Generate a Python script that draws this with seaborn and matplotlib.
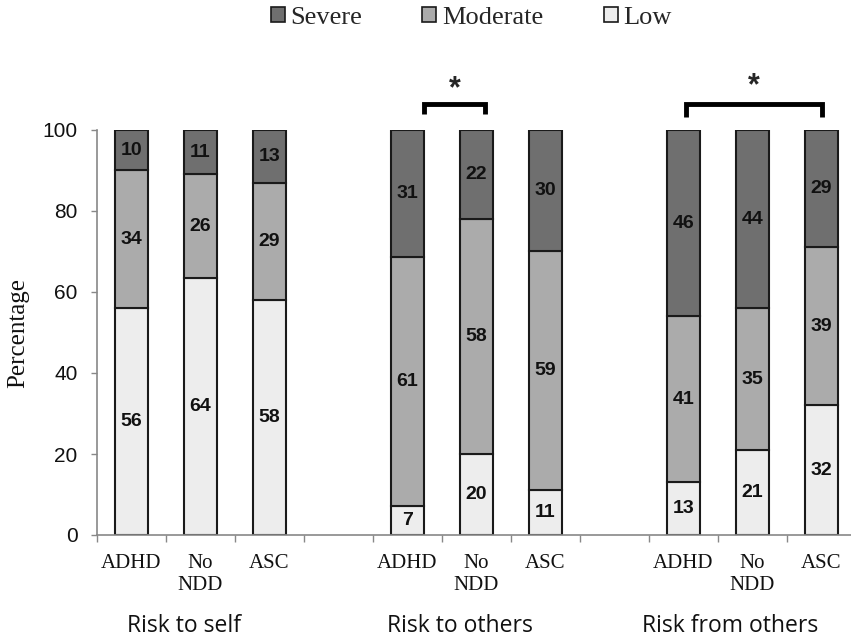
import matplotlib
matplotlib.use("Agg")
import matplotlib.pyplot as plt
import seaborn as sns
import pandas as pd
import numpy as np
from matplotlib.patches import Patch

# ---- data ----
groups = ["Risk to self", "Risk to others", "Risk from others"]
subgroups = ["ADHD", "No NDD", "ASC"]
tick_text = ["ADHD", "No\nNDD", "ASC"]
levels = ["Low", "Moderate", "Severe"]
low = [56, 64, 58, 7, 20, 11, 13, 21, 32]
moderate = [34, 26, 29, 61, 58, 59, 41, 35, 39]
severe = [10, 11, 13, 31, 22, 30, 46, 44, 29]

colors = {"Severe": "#6f6f6f", "Moderate": "#ababab", "Low": "#ededed"}

# slots: 3 groups of 3 bars with a blank slot between groups
slots = []
ticklabels = []
for gi, g in enumerate(groups):
    for si, s in enumerate(subgroups):
        slots.append(f"{g}|{s}")
        ticklabels.append(tick_text[si])
    if gi < len(groups) - 1:
        slots.append(f"gap{gi}")
        ticklabels.append("")

rows = []
k = 0
for g in groups:
    for s in subgroups:
        tot = low[k] + moderate[k] + severe[k]
        rows.append({"slot": f"{g}|{s}", "Low": low[k], "Moderate": moderate[k],
                     "Severe": severe[k],
                     "Low_h": low[k] * 100 / tot, "Moderate_h": moderate[k] * 100 / tot,
                     "Severe_h": severe[k] * 100 / tot})
        k += 1
df = pd.DataFrame(rows)
df["Low_b"] = 0.0
df["Moderate_b"] = df["Low_h"]
df["Severe_b"] = df["Low_h"] + df["Moderate_h"]

sns.set_theme(style="white")
plt.rcParams["font.family"] = ["Liberation Sans", "DejaVu Sans"]

fig = plt.figure(figsize=(8.51, 6.38), dpi=100)
W, H = 851, 638
ax_left, ax_right = 97, 856
ax_top, ax_bot = 130, 535
ax = fig.add_axes([ax_left / W, 1 - ax_bot / H, (ax_right - ax_left) / W, (ax_bot - ax_top) / H])

for lv in levels:
    sns.barplot(data=df, x="slot", y=f"{lv}_h", order=slots, ax=ax,
                bottom=df[f"{lv}_b"].values, color=colors[lv],
                edgecolor="#1a1a1a", linewidth=1.5, width=0.49,
                saturation=1, errorbar=None)

# value labels
pos = {s: i for i, s in enumerate(slots)}
for _, r in df.iterrows():
    x = pos[r["slot"]]
    for lv in levels:
        yc = r[f"{lv}_b"] + r[f"{lv}_h"] / 2
        ax.text(x, yc, f"{int(r[lv])}", ha="center", va="center",
                fontsize=14, fontweight="bold", color="#111111")

ax.set_xlim(-0.5, 10.5)
ax.set_ylim(0, 100)
ax.set_yticks([0, 20, 40, 60, 80, 100])
ax.tick_params(axis="y", labelsize=15, length=4, width=1, color="#888888",
               direction="out", left=True, pad=10, labelcolor="#111111")
ax.set_xticks(range(len(slots)))
ax.set_xticklabels(ticklabels, fontsize=15, family=["Liberation Serif"], color="#111111",
                   linespacing=1.15)
ax.tick_params(axis="x", which="major", length=0, pad=14)
ax.set_xticks(np.arange(-0.5, 10.6, 1.0), minor=True)
ax.tick_params(axis="x", which="minor", length=5, width=1, color="#888888",
               direction="out", bottom=True)
ax.set_xlabel("")
ax.set_ylabel("")
fig.text(18 / W, 1 - 333 / H, "Percentage", rotation=90, ha="center", va="center",
         fontsize=18, family=["Liberation Serif"], color="#111111")
for sp in ["top", "right"]:
    ax.spines[sp].set_visible(False)
for sp in ["left", "bottom"]:
    ax.spines[sp].set_color("#888888")
    ax.spines[sp].set_linewidth(1.2)

# group labels
group_x = [0.76, 4.76, 8.67]
label_y = -(626 - ax_bot) / (ax_bot - ax_top)
for g, gx in zip(groups, group_x):
    ax.text(gx, label_y, g, transform=ax.get_xaxis_transform(), ha="center", va="center",
            fontsize=16.5, family=["Open Sans"], color="#111111")

# significance brackets
def bracket(x1, x2, y, leg, star_y):
    ax.plot([x1, x1, x2, x2], [y - leg, y, y, y - leg], color="black", lw=3.5,
            clip_on=False, solid_joinstyle="miter", solid_capstyle="butt")
    ax.text((x1 + x2) / 2, star_y, "*", ha="center", va="center", fontsize=22,
            fontweight="bold", clip_on=False)

bracket(4.24, 5.12, 106.5, 2.6, 110.0)
bracket(8.04, 10.01, 106.3, 3.0, 110.8)

# legend
handles = [Patch(facecolor=colors[l], edgecolor="#1a1a1a", linewidth=1.2)
           for l in ["Severe", "Moderate", "Low"]]
fig.legend(handles, ["Severe", "Moderate", "Low"], loc="center",
           bbox_to_anchor=(471 / W, 1 - 18 / H), ncol=3, frameon=False,
           prop={"family": "Liberation Serif", "size": 19},
           handlelength=0.53, handleheight=0.53, handletextpad=0.2, columnspacing=2.3)

fig.savefig("out.png", dpi=100)
